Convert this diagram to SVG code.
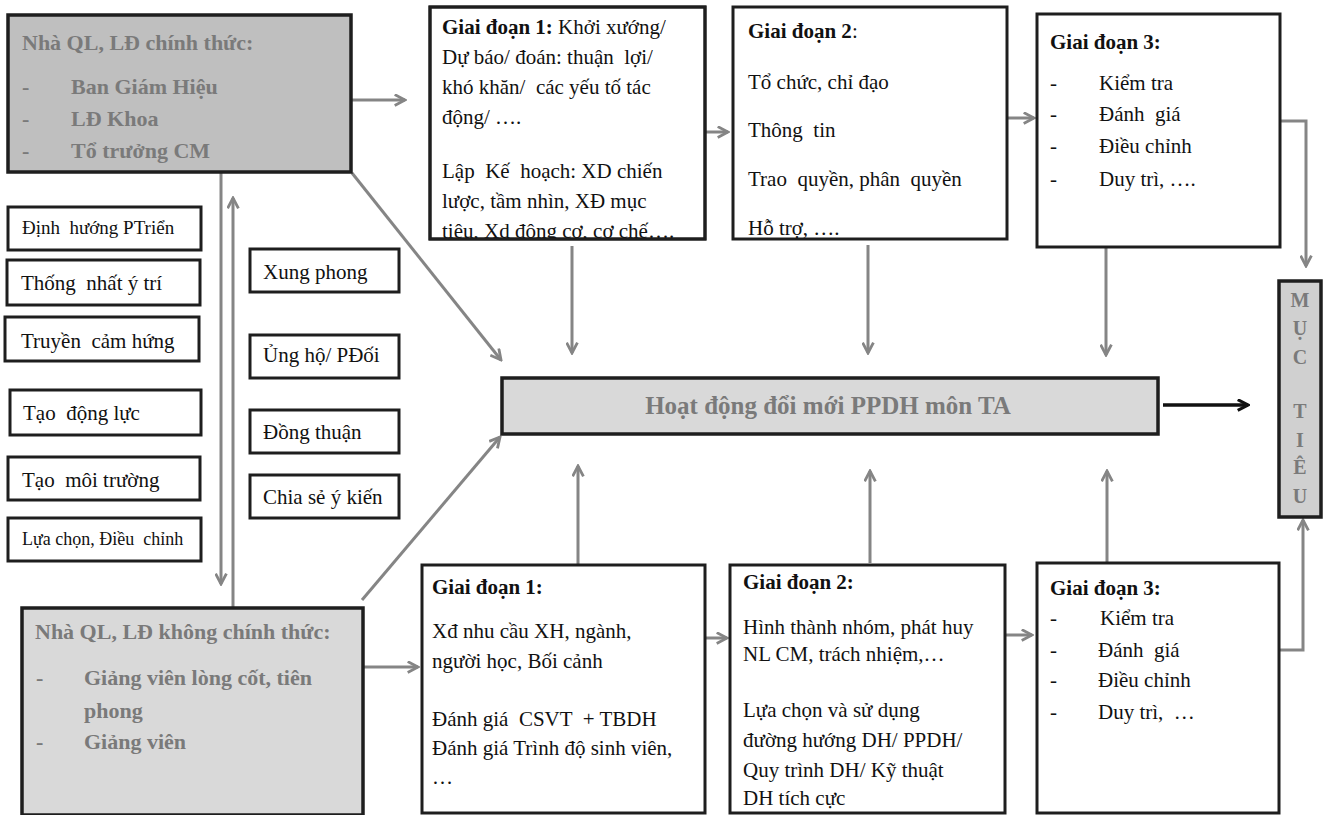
<svg xmlns="http://www.w3.org/2000/svg" width="1328" height="815" viewBox="0 0 1328 815">
<style>
text{font-family:"Liberation Serif","Times New Roman",serif;font-size:21px;fill:#111}
.b{font-weight:bold}
.g{fill:#7a7a7a;font-weight:bold;font-size:22px}
.box{fill:#fff;stroke:#1e1e1e;stroke-width:3}
.dk{fill:#bfbfbf;stroke:#1e1e1e;stroke-width:3.5}
.lt{fill:#d9d9d9;stroke:#1e1e1e;stroke-width:3.5}
.ar{fill:none;stroke:#858585;stroke-width:3;marker-end:url(#ah)}
.mt{fill:#7a7a7a;font-weight:bold;font-size:20px;text-anchor:middle}
</style>
<defs>
<marker id="ah" viewBox="0 0 12 12" refX="10.5" refY="6" markerWidth="13" markerHeight="13" markerUnits="userSpaceOnUse" orient="auto">
<path d="M1,1 L10.5,6 L1,11" fill="none" stroke="#858585" stroke-width="2.6"/>
</marker>
<marker id="ahk" viewBox="0 0 12 12" refX="10.5" refY="6" markerWidth="13" markerHeight="13" markerUnits="userSpaceOnUse" orient="auto">
<path d="M1,1 L10.5,6 L1,11" fill="none" stroke="#111" stroke-width="2.8"/>
</marker>
<clipPath id="c1"><rect x="425" y="5" width="282" height="233"/></clipPath>
</defs>

<g id="connectors">
<line class="ar" x1="350" y1="100" x2="405" y2="100"/>
<line class="ar" x1="352" y1="173" x2="501" y2="360"/>
<line class="ar" x1="221" y1="172" x2="221" y2="584"/>
<line class="ar" x1="233" y1="607" x2="233" y2="198"/>
<line class="ar" x1="362" y1="600" x2="500" y2="437"/>
<line class="ar" x1="363" y1="667" x2="418" y2="667"/>
<line class="ar" x1="705" y1="132" x2="728" y2="132"/>
<line class="ar" x1="1008" y1="118" x2="1034" y2="118"/>
<line class="ar" x1="703" y1="638" x2="727" y2="638"/>
<line class="ar" x1="1005" y1="635" x2="1032" y2="635"/>
<line class="ar" x1="572" y1="246" x2="572" y2="353"/>
<line class="ar" x1="868" y1="245" x2="868" y2="353"/>
<line class="ar" x1="1106" y1="248" x2="1106" y2="355"/>
<line class="ar" x1="578" y1="564" x2="578" y2="466"/>
<line class="ar" x1="870" y1="563" x2="870" y2="471"/>
<line class="ar" x1="1107" y1="562" x2="1107" y2="471"/>
<path class="ar" d="M1270,121 H1306 V266"/>
<path class="ar" d="M1279,650 H1303 V520"/>
<line x1="1163" y1="405" x2="1248" y2="405" stroke="#111" stroke-width="3.5" marker-end="url(#ahk)"/>
</g>

<g id="formal-leaders">
<rect class="dk" x="8" y="15" width="343" height="157"/>
<text class="g" x="22" y="50">Nhà QL, LĐ chính thức:</text>
<text class="g" x="22" y="94">-</text><text class="g" x="71" y="94">Ban Giám Hiệu</text>
<text class="g" x="22" y="126">-</text><text class="g" x="71" y="126">LĐ Khoa</text>
<text class="g" x="22" y="158">-</text><text class="g" x="71" y="158">Tổ trưởng CM</text>
</g>

<g id="informal-leaders">
<rect class="lt" x="22" y="608" width="341" height="207"/>
<text class="g" x="35" y="639">Nhà QL, LĐ không chính thức:</text>
<text class="g" x="36" y="685">-</text><text class="g" x="84" y="685">Giảng viên lòng cốt, tiên</text>
<text class="g" x="84" y="718">phong</text>
<text class="g" x="36" y="749">-</text><text class="g" x="84" y="749">Giảng viên</text>
</g>

<g id="left-items">
<rect class="box" x="8" y="207" width="193" height="43"/><text x="22" y="234" style="font-size:19px" xml:space="preserve">Định  hướng PTriển</text>
<rect class="box" x="7" y="260" width="193" height="45"/><text x="21" y="290" xml:space="preserve">Thống  nhất ý trí</text>
<rect class="box" x="5" y="317" width="194" height="44"/><text x="21" y="348" xml:space="preserve">Truyền  cảm hứng</text>
<rect class="box" x="10" y="390" width="191" height="45"/><text x="23" y="420" xml:space="preserve">Tạo  động lực</text>
<rect class="box" x="8" y="457" width="192" height="43"/><text x="22" y="487" xml:space="preserve">Tạo  môi trường</text>
<rect class="box" x="8" y="518" width="193" height="43"/><text x="22" y="545" style="font-size:18px" xml:space="preserve">Lựa chọn, Điều  chỉnh</text>
</g>

<g id="middle-items">
<rect class="box" x="250" y="249" width="149" height="43"/><text x="263" y="279">Xung phong</text>
<rect class="box" x="250" y="335" width="149" height="43"/><text x="263" y="362">Ủng hộ/ PĐối</text>
<rect class="box" x="250" y="410" width="149" height="43"/><text x="263" y="439">Đồng thuận</text>
<rect class="box" x="250" y="475" width="149" height="43"/><text x="263" y="504">Chia sẻ ý kiến</text>
</g>

<g id="top-stage1">
<rect class="box" x="430" y="7" width="275" height="232"/>
<g clip-path="url(#c1)">
<text x="442" y="34"><tspan class="b">Giai đoạn 1:</tspan> Khởi xướng/</text>
<text x="442" y="64" xml:space="preserve">Dự báo/ đoán: thuận  lợi/</text>
<text x="442" y="94" xml:space="preserve">khó khăn/  các yếu tố tác</text>
<text x="442" y="124">động/ ….</text>
<text x="442" y="178" xml:space="preserve">Lập  Kế  hoạch: XD chiến</text>
<text x="442" y="208" xml:space="preserve">lược, tầm nhìn, XĐ mục</text>
<text x="442" y="238">tiêu, Xd động cơ, cơ chế….</text>
</g>
<rect x="430" y="7" width="275" height="232" fill="none" stroke="#1e1e1e" stroke-width="3"/>
</g>

<g id="top-stage2">
<rect class="box" x="733" y="7" width="274" height="232"/>
<text x="748" y="38"><tspan class="b">Giai đoạn 2</tspan>:</text>
<text x="748" y="89">Tổ chức, chỉ đạo</text>
<text x="748" y="137" xml:space="preserve">Thông  tin</text>
<text x="748" y="186" xml:space="preserve">Trao  quyền, phân  quyền</text>
<text x="748" y="235">Hỗ trợ, ….</text>
</g>

<g id="top-stage3">
<rect class="box" x="1037" y="14" width="243" height="233"/>
<text class="b" x="1050" y="49">Giai đoạn 3:</text>
<text x="1050" y="90">-</text><text x="1099" y="90">Kiểm tra</text>
<text x="1050" y="121">-</text><text x="1099" y="121" xml:space="preserve">Đánh  giá</text>
<text x="1050" y="153">-</text><text x="1099" y="153">Điều chỉnh</text>
<text x="1050" y="186">-</text><text x="1099" y="186">Duy trì, ….</text>
</g>

<g id="central">
<rect class="lt" x="502" y="378" width="656" height="56"/>
<text class="g" x="828" y="414" text-anchor="middle" style="font-size:25px">Hoạt động đổi mới PPDH môn TA</text>
</g>

<g id="goal">
<rect x="1279" y="281" width="42" height="236" fill="#d0d0d0" stroke="#1e1e1e" stroke-width="3.5"/>
<text class="mt" x="1300" y="307">M</text>
<text class="mt" x="1300" y="335">Ụ</text>
<text class="mt" x="1300" y="364">C</text>
<text class="mt" x="1300" y="418">T</text>
<text class="mt" x="1300" y="447">I</text>
<text class="mt" x="1300" y="474">Ê</text>
<text class="mt" x="1300" y="503">U</text>
</g>

<g id="bottom-stage1">
<rect class="box" x="422" y="565" width="283" height="248"/>
<text class="b" x="432" y="594">Giai đoạn 1:</text>
<text x="432" y="638">Xđ nhu cầu XH, ngành,</text>
<text x="432" y="668">người học, Bối cảnh</text>
<text x="432" y="726" xml:space="preserve">Đánh giá  CSVT  + TBDH</text>
<text x="432" y="755">Đánh giá Trình độ sinh viên,</text>
<text x="432" y="784">…</text>
</g>

<g id="bottom-stage2">
<rect class="box" x="730" y="565" width="275" height="248"/>
<text class="b" x="743" y="589">Giai đoạn 2:</text>
<text x="743" y="634">Hình thành nhóm, phát huy</text>
<text x="743" y="661">NL CM, trách nhiệm,…</text>
<text x="743" y="717">Lựa chọn và sử dụng</text>
<text x="743" y="747">đường hướng DH/ PPDH/</text>
<text x="743" y="777">Quy trình DH/ Kỹ thuật</text>
<text x="743" y="805">DH tích cực</text>
</g>

<g id="bottom-stage3">
<rect class="box" x="1037" y="563" width="242" height="250"/>
<text class="b" x="1050" y="595">Giai đoạn 3:</text>
<text x="1050" y="625">-</text><text x="1100" y="625">Kiểm tra</text>
<text x="1050" y="657">-</text><text x="1098" y="657" xml:space="preserve">Đánh  giá</text>
<text x="1050" y="687">-</text><text x="1098" y="687">Điều chỉnh</text>
<text x="1050" y="719">-</text><text x="1098" y="719" xml:space="preserve">Duy trì,  …</text>
</g>
</svg>
